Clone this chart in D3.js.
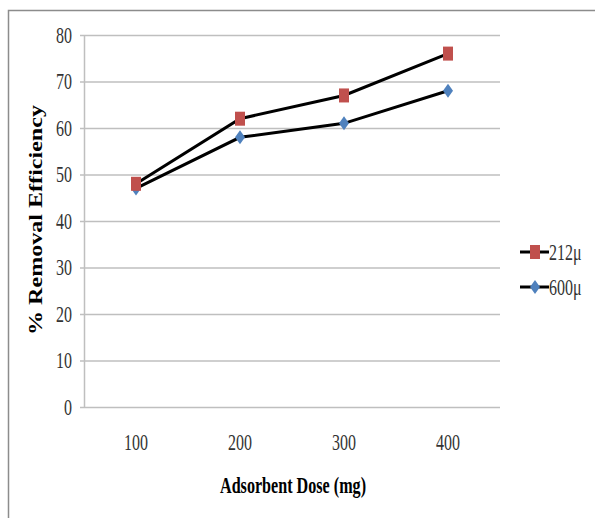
<!DOCTYPE html>
<html>
<head>
<meta charset="utf-8">
<script src="https://cdnjs.cloudflare.com/ajax/libs/d3/7.8.5/d3.min.js"></script>
<style>
  body { margin: 0; background: #fff; }
  text { font-family: "Liberation Serif", "Times New Roman", serif; }
</style>
</head>
<body>
<div id="chart"></div>
<script>
var doses = ["100", "200", "300", "400"];
var series212 = [48, 62, 67, 76];
var series600 = [47, 58, 61, 68];
var yTicks = [0, 10, 20, 30, 40, 50, 60, 70, 80];
var seriesNames = ["212\u03bc", "600\u03bc"];

var width = 595, height = 518;
var stretch = 1.4; // the picture is drawn taller than wide

var svg = d3.select("#chart").append("svg")
    .attr("width", width)
    .attr("height", height);

// outer frame (only top and left edge show)
svg.append("path")
    .attr("d", "M8.5," + height + "V10.5H" + width)
    .attr("fill", "none")
    .attr("stroke", "#8c8c8c")
    .attr("stroke-width", 1.5);

var x = d3.scaleBand().domain(doses).range([84, 500]);
var y = d3.scaleLinear().domain([0, 80]).range([407, 35]);

// gridlines + y ticks
var yAxis = d3.axisLeft(y)
    .tickValues(yTicks)
    .tickSize(-(500 - 80))
    .tickFormat("");
var gy = svg.append("g")
    .attr("transform", "translate(80,0)")
    .call(yAxis);
gy.select(".domain").remove();
gy.selectAll(".tick line")
    .attr("stroke", "#bfbfbf")
    .attr("stroke-width", 1.5);

// y axis line
svg.append("line")
    .attr("x1", 84.5).attr("x2", 84.5)
    .attr("y1", y(80)).attr("y2", y(0))
    .attr("stroke", "#bfbfbf")
    .attr("stroke-width", 1.5);

// y tick labels
svg.selectAll(".ylab")
    .data(yTicks)
    .enter().append("text")
    .attr("class", "ylab")
    .attr("transform", function (d) { return "translate(72," + y(d) + ") scale(1," + stretch + ")"; })
    .attr("dy", "0.35em")
    .attr("text-anchor", "end")
    .attr("font-size", 16)
    .attr("fill", "#333")
    .text(function (d) { return d; });

// x tick labels
svg.selectAll(".xlab")
    .data(doses)
    .enter().append("text")
    .attr("class", "xlab")
    .attr("transform", function (d) { return "translate(" + (x(d) + x.bandwidth() / 2) + ",442) scale(1," + stretch + ")"; })
    .attr("dy", "0.35em")
    .attr("text-anchor", "middle")
    .attr("font-size", 16)
    .attr("fill", "#333")
    .text(function (d) { return d; });

// axis titles
svg.append("text")
    .attr("transform", "translate(293,493) scale(1,1.45)")
    .attr("text-anchor", "middle")
    .attr("font-size", 16)
    .attr("font-weight", "bold")
    .attr("textLength", 146)
    .attr("lengthAdjust", "spacingAndGlyphs")
    .text("Adsorbent Dose (mg)");

svg.append("text")
    .attr("transform", "translate(42,220) rotate(-90)")
    .attr("text-anchor", "middle")
    .attr("font-size", 18)
    .attr("font-weight", "bold")
    .attr("textLength", 230)
    .attr("lengthAdjust", "spacingAndGlyphs")
    .text("% Removal Efficiency");

// lines
var line = d3.line()
    .x(function (d, i) { return x(doses[i]) + x.bandwidth() / 2; })
    .y(function (d) { return y(d); });

[series600, series212].forEach(function (s) {
    svg.append("path")
        .datum(s)
        .attr("d", line)
        .attr("fill", "none")
        .attr("stroke", "#000")
        .attr("stroke-width", 3);
});

function diamond(cx, cy) {
    return "M" + cx + "," + (cy - 7) + "L" + (cx + 5) + "," + cy + "L" + cx + "," + (cy + 7) + "L" + (cx - 5) + "," + cy + "Z";
}

svg.selectAll(".m600")
    .data(series600)
    .enter().append("path")
    .attr("class", "m600")
    .attr("d", function (d, i) { return diamond(x(doses[i]) + x.bandwidth() / 2, y(d)); })
    .attr("fill", "#4f81bd");

svg.selectAll(".m212")
    .data(series212)
    .enter().append("rect")
    .attr("class", "m212")
    .attr("x", function (d, i) { return x(doses[i]) + x.bandwidth() / 2 - 5; })
    .attr("y", function (d) { return y(d) - 7; })
    .attr("width", 10)
    .attr("height", 14)
    .attr("fill", "#c0504d");

// legend
var legY = [252, 287];
seriesNames.forEach(function (name, i) {
    var g = svg.append("g").attr("transform", "translate(0," + legY[i] + ")");
    g.append("line")
        .attr("x1", 520).attr("x2", 549)
        .attr("stroke", "#000").attr("stroke-width", 3);
    if (i === 0) {
        g.append("rect").attr("x", 530).attr("y", -7).attr("width", 10).attr("height", 14).attr("fill", "#c0504d");
    } else {
        g.append("path").attr("d", diamond(535, 0)).attr("fill", "#4f81bd");
    }
    g.append("text")
        .attr("transform", "translate(549,0) scale(1," + stretch + ")")
        .attr("dy", "0.35em")
        .attr("font-size", 16)
        .attr("fill", "#333")
        .text(name);
});
</script>
</body>
</html>
